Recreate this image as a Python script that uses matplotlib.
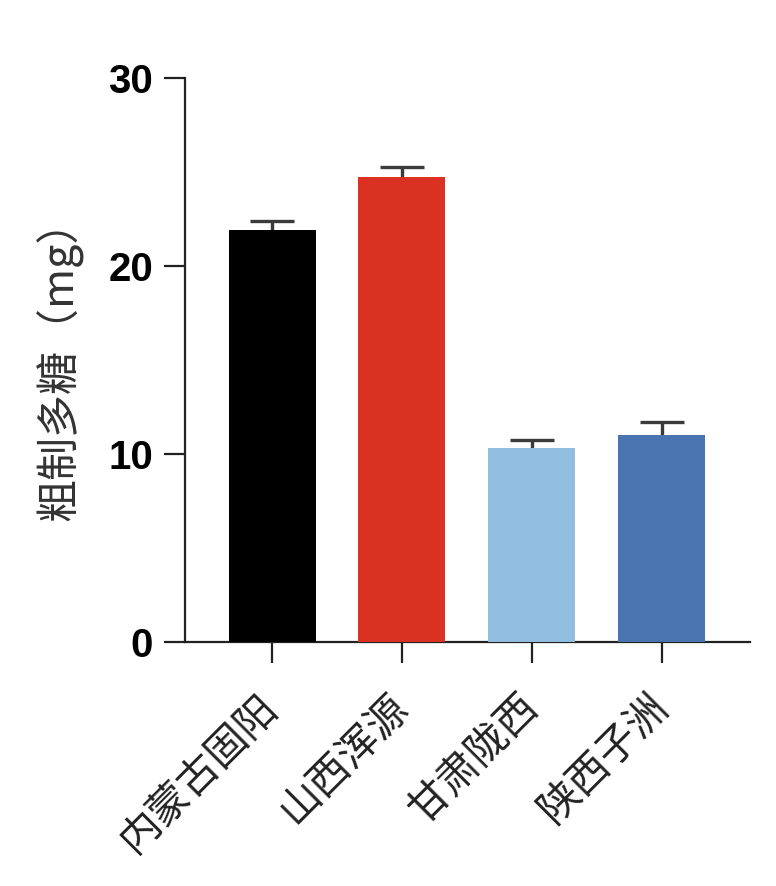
import matplotlib

matplotlib.use("Agg")

import matplotlib.pyplot as plt

# data
categories = ["内蒙古固阳", "山西浑源", "甘肃陇西", "陕西子洲"]
values = [21.9, 24.75, 10.3, 11.0]
errors = [0.5, 0.5, 0.45, 0.7]
colors = ["#000000", "#DA3123", "#90BDE0", "#4A74B0"]
y_ticks = [0, 10, 20, 30]
y_label = "粗制多糖（mg）"

cjk = ["Noto Sans CJK SC", "DejaVu Sans"]

fig = plt.figure(figsize=(7.76, 8.86), dpi=100)
ax = fig.add_axes([0.2384, 0.2754, 0.728, 0.6366])

x = range(len(categories))
# bars above the error bars so only the upper half shows
ax.bar(x, values, width=0.67, color=colors, zorder=3)
ax.errorbar(
    x, values, yerr=errors, fmt="none",
    ecolor="#3a3a3a", elinewidth=2.4, capsize=16, capthick=2.4, zorder=2,
)

ax.set_xlim(-0.67, 3.68)
ax.set_ylim(0, 30)
ax.set_yticks(y_ticks)
ax.set_yticklabels([str(t) for t in y_ticks], fontfamily="Liberation Sans",
                   fontweight="bold", fontsize=29)
ax.set_xticks(list(x))
ax.set_xticklabels(categories, family=cjk, fontsize=29.5, color="#222222",
                   rotation=45, ha="right", va="center",
                   rotation_mode="anchor")

for side in ("top", "right"):
    ax.spines[side].set_visible(False)
for side in ("left", "bottom"):
    ax.spines[side].set_linewidth(1.6)
    ax.spines[side].set_color("#222222")

ax.tick_params(axis="both", length=15, width=1.6, color="#222222")
ax.tick_params(axis="y", pad=8)
ax.tick_params(axis="x", pad=27)

ax.set_ylabel(y_label, family=cjk, fontsize=31, color="#333333", labelpad=18)

fig.savefig("out.png", dpi=100)
